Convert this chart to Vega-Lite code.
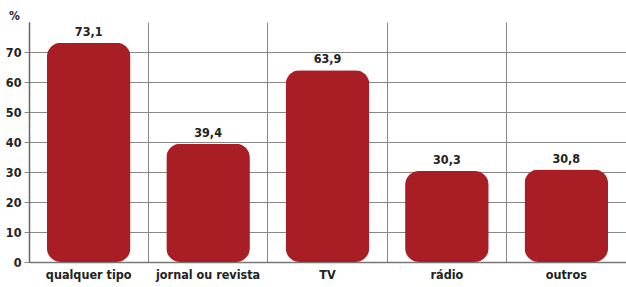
{
  "$schema": "https://vega.github.io/schema/vega-lite/v6.json",
  "width": 597,
  "height": 240,
  "autosize": "none",
  "padding": {"left": 29, "top": 22, "right": 0, "bottom": 25},
  "background": "white",
  "config": {
    "locale": {"number": {"decimal": ",", "thousands": ".", "grouping": [3], "currency": ["", ""]}},
    "view": {"stroke": null},
    "font": "DejaVu Sans Condensed"
  },
  "data": {
    "values": [
      {"tipo": "qualquer tipo", "valor": 73.1},
      {"tipo": "jornal ou revista", "valor": 39.4},
      {"tipo": "TV", "valor": 63.9},
      {"tipo": "rádio", "valor": 30.3},
      {"tipo": "outros", "valor": 30.8}
    ]
  },
  "encoding": {
    "x": {
      "field": "tipo", "type": "nominal", "sort": null,
      "scale": {"paddingInner": 0, "paddingOuter": 0},
      "axis": {
        "title": null, "labelAngle": 0, "labelFont": "DejaVu Sans Condensed", "labelFontWeight": "bold",
        "labelFontSize": 12.5, "labelColor": "#222", "labelPadding": 6,
        "ticks": false, "domainColor": "#777", "domainWidth": 1.5,
        "grid": true, "gridColor": "#888", "gridWidth": 1, "bandPosition": 0
      }
    },
    "y": {
      "field": "valor", "type": "quantitative",
      "scale": {"domain": [0, 80], "nice": false},
      "axis": {
        "values": [0, 10, 20, 30, 40, 50, 60, 70],
        "title": "%", "titleAngle": 0, "titleAlign": "center", "titleBaseline": "middle",
        "titleX": -15, "titleY": -7, "titleFont": "DejaVu Sans Condensed", "titleFontWeight": "bold", "titleFontSize": 12, "titleColor": "#222",
        "labelFont": "DejaVu Sans Condensed", "labelFontWeight": "bold", "labelFontSize": 12.5, "labelColor": "#222", "labelPadding": 3,
        "tickSize": 5, "tickColor": "#888",
        "domainColor": "#666", "domainWidth": 1.5,
        "grid": true, "gridColor": "#888", "gridWidth": 1
      }
    }
  },
  "layer": [
    {
      "mark": {"type": "bar", "color": "#A81E24", "cornerRadius": 14, "width": {"band": 0.7}}
    },
    {
      "mark": {"type": "text", "dy": -11, "font": "DejaVu Sans Condensed", "fontWeight": "bold", "fontSize": 12.5, "color": "#222"},
      "encoding": {"text": {"field": "valor", "type": "quantitative", "format": ".1f"}}
    }
  ]
}
